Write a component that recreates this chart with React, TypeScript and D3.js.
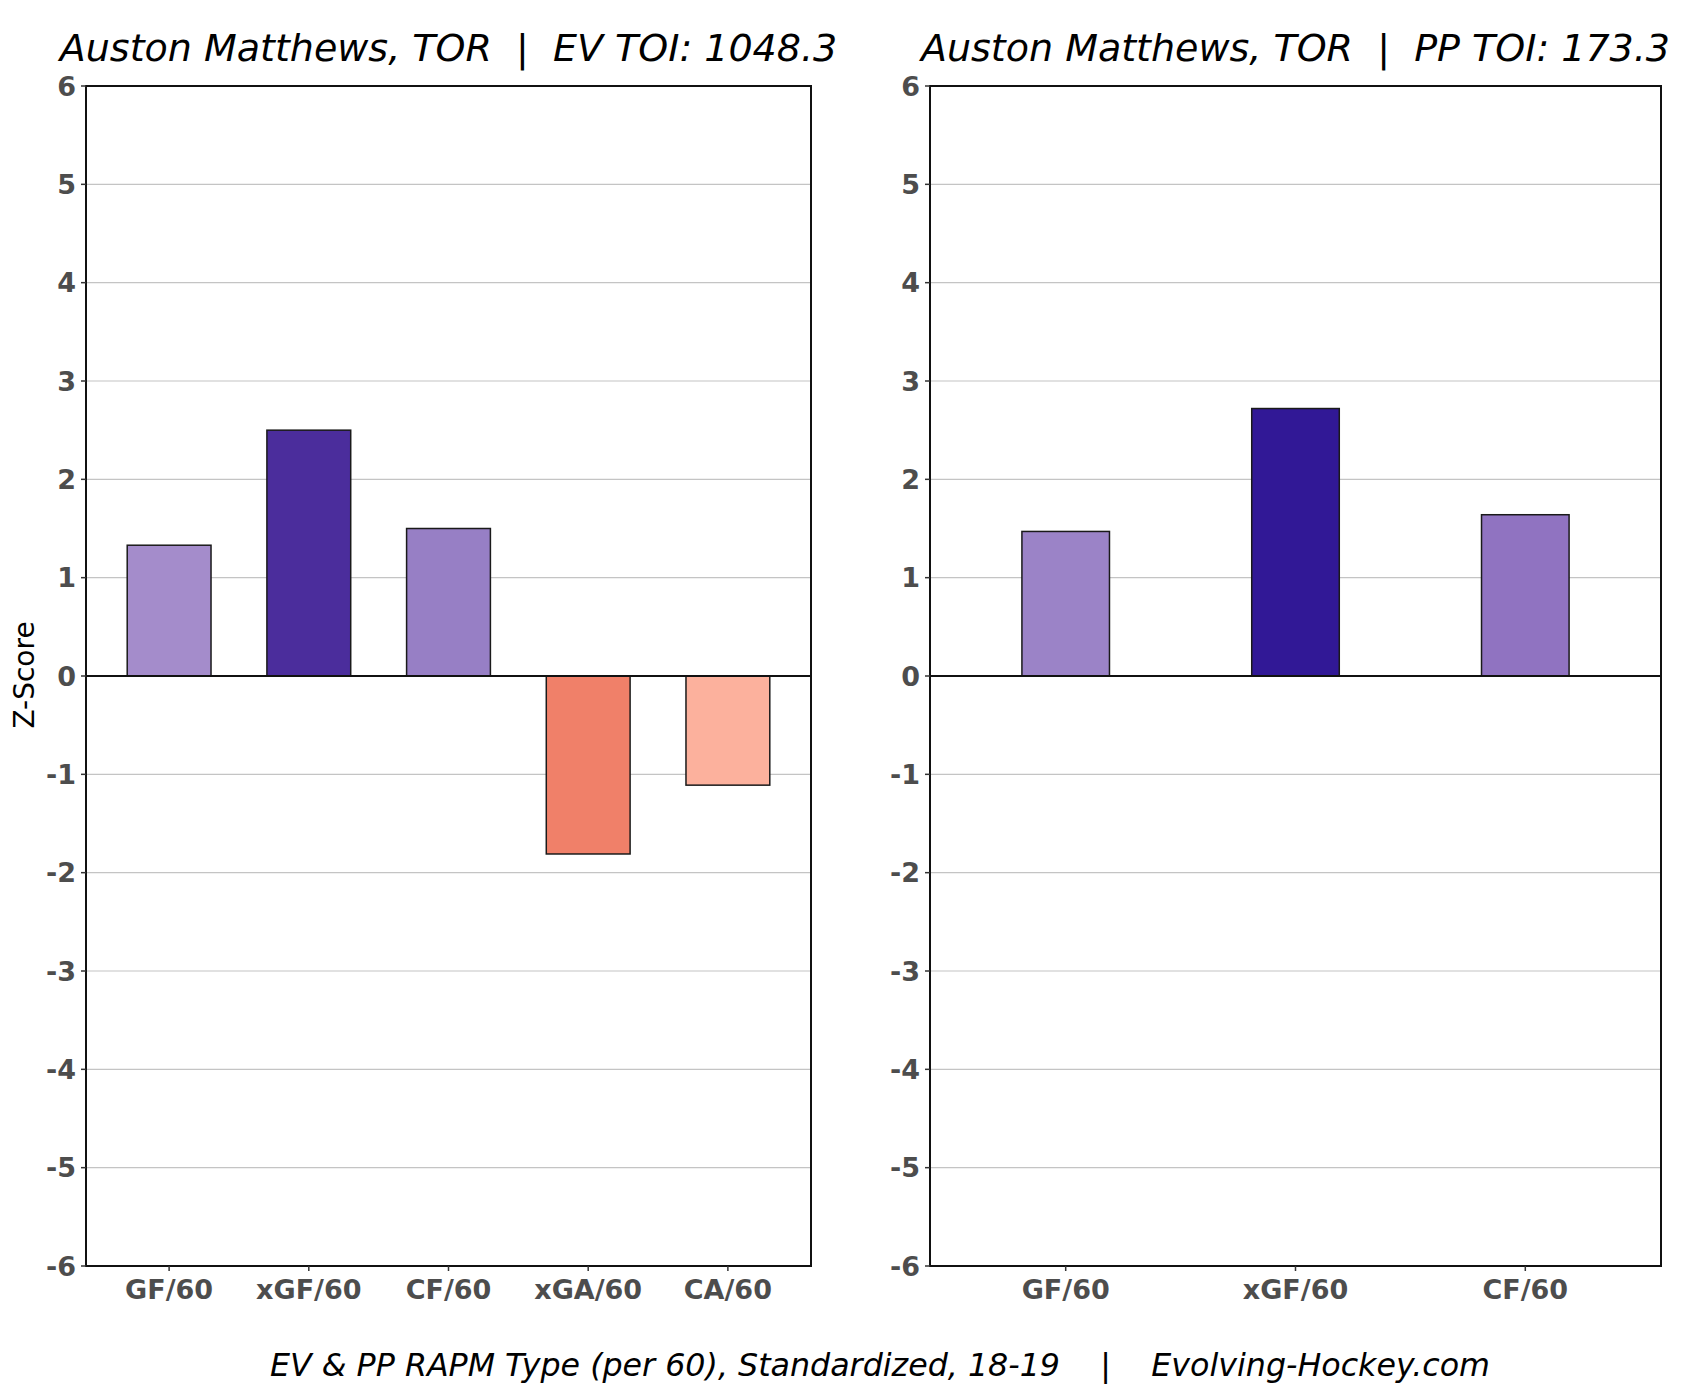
import * as d3 from "d3";

// EV panel data
const evCategories = ["GF/60", "xGF/60", "CF/60", "xGA/60", "CA/60"];
const evValues = [1.33, 2.5, 1.5, -1.81, -1.11];
const evColors = ["#a48ccb", "#4b2d9c", "#977fc5", "#f08069", "#fcb19d"];

// PP panel data
const ppCategories = ["GF/60", "xGF/60", "CF/60"];
const ppValues = [1.47, 2.72, 1.64];
const ppColors = ["#9b83c7", "#311896", "#9073c1"];

const yTicks = [-6, -5, -4, -3, -2, -1, 0, 1, 2, 3, 4, 5, 6];

const evTitle = "Auston Matthews, TOR  |  EV TOI: 1048.3";
const ppTitle = "Auston Matthews, TOR  |  PP TOI: 173.3";
const xLabel = "EV & PP RAPM Type (per 60), Standardized, 18-19    |    Evolving-Hockey.com";

const W = 1698;
const H = 1399;
const TOP = 86;
const BOTTOM = 1266;
const FONT = "DejaVu Sans, sans-serif";
const TICK_COLOR = "#4d4d4d";
const TICK_SIZE = 27;

interface PanelProps {
  title: string;
  categories: string[];
  values: number[];
  colors: string[];
  x0: number;
  x1: number;
  padInner: number;
  padOuter: number;
}

function Panel({ title, categories, values, colors, x0, x1, padInner, padOuter }: PanelProps) {
  const x = d3
    .scaleBand<string>()
    .domain(categories)
    .range([x0, x1])
    .paddingInner(padInner)
    .paddingOuter(padOuter);
  const y = d3.scaleLinear().domain([-6, 6]).range([BOTTOM, TOP]);

  return (
    <g>
      {/* grille */}
      {yTicks.map((t) => (
        <line key={"g" + t} x1={x0} x2={x1} y1={y(t)} y2={y(t)} stroke="#c4c4c4" strokeWidth={1.2} />
      ))}

      {/* barres */}
      {categories.map((c, i) => {
        const v = values[i];
        return (
          <rect
            key={c}
            x={x(c)}
            width={x.bandwidth()}
            y={y(Math.max(0, v))}
            height={Math.abs(y(v) - y(0))}
            fill={colors[i]}
            stroke="#1a1a1a"
            strokeWidth={1.5}
          />
        );
      })}

      {/* ligne zéro */}
      <line x1={x0} x2={x1} y1={y(0)} y2={y(0)} stroke="#111" strokeWidth={2} />

      {/* cadre */}
      <rect x={x0} y={TOP} width={x1 - x0} height={BOTTOM - TOP} fill="none" stroke="#111" strokeWidth={2} />

      {/* axe y */}
      {yTicks.map((t) => (
        <g key={"y" + t}>
          <line x1={x0 - 5} x2={x0} y1={y(t)} y2={y(t)} stroke="#333" strokeWidth={1.5} />
          <text
            x={x0 - 10}
            y={y(t)}
            dy="0.36em"
            textAnchor="end"
            fontFamily={FONT}
            fontWeight="bold"
            fontSize={TICK_SIZE}
            fill={TICK_COLOR}
          >
            {String(t)}
          </text>
        </g>
      ))}

      {/* axe x */}
      {categories.map((c) => {
        const cx = (x(c) ?? 0) + x.bandwidth() / 2;
        return (
          <g key={"x" + c}>
            <line x1={cx} x2={cx} y1={BOTTOM} y2={BOTTOM + 5} stroke="#333" strokeWidth={1.5} />
            <text
              x={cx}
              y={1299}
              textAnchor="middle"
              fontFamily={FONT}
              fontWeight="bold"
              fontSize={TICK_SIZE}
              fill={TICK_COLOR}
            >
              {c}
            </text>
          </g>
        );
      })}

      {/* titre */}
      <text
        x={(x0 + x1) / 2}
        y={61}
        textAnchor="middle"
        fontFamily={FONT}
        fontStyle="italic"
        fontSize={38}
        fill="#000"
        style={{ whiteSpace: "pre" }}
      >
        {title}
      </text>
    </g>
  );
}

export default function App() {
  return (
    <div style={{ position: "absolute", left: 0, top: 0 }}>
      <svg width={W} height={H} style={{ display: "block", background: "#fff" }}>
        <rect width={W} height={H} fill="#fff" />
        <Panel
          title={evTitle}
          categories={evCategories}
          values={evValues}
          colors={evColors}
          x0={86}
          x1={811}
          padInner={0.4}
          padOuter={0.295}
        />
        <Panel
          title={ppTitle}
          categories={ppCategories}
          values={ppValues}
          colors={ppColors}
          x0={930}
          x1={1661}
          padInner={0.619}
          padOuter={0.4}
        />
        <text
          transform="translate(34,675) rotate(-90)"
          textAnchor="middle"
          fontFamily={FONT}
          fontSize={28}
          fill="#000"
        >
          Z-Score
        </text>
        <text
          x={880}
          y={1376}
          textAnchor="middle"
          fontFamily={FONT}
          fontStyle="italic"
          fontSize={31.7}
          fill="#000"
          style={{ whiteSpace: "pre" }}
        >
          {xLabel}
        </text>
      </svg>
    </div>
  );
}
